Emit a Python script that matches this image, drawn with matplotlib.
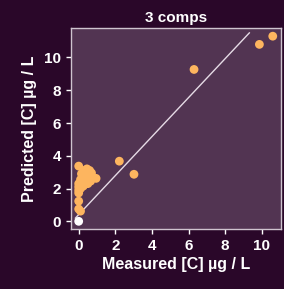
import numpy as np
import matplotlib.pyplot as plt

plt.rcParams['font.family'] = ['Liberation Sans', 'DejaVu Sans']

# colours
FIG_BG = '#2a0729'
AX_BG = '#523452'
DOT = '#fdb55f'
TEXT = 'white'

# data (measured, predicted)
measured = [10.6, 9.87, 6.3, 2.22, 3.02,
            0.0, 0.3, 0.45, 0.6, 0.7, 0.15, 0.3, 0.5, 0.95, 0.1, 0.4, 0.65,
            0.0, 0.2, 0.5, 0.0, 0.25, 0.0, 0.1, 0.0, 0.0, 0.0, 0.1]
predicted = [11.3, 10.8, 9.27, 3.67, 2.87,
             3.37, 3.1, 3.2, 3.1, 2.95, 2.9, 2.75, 2.8, 2.62, 2.55, 2.5, 2.45,
             2.3, 2.35, 2.3, 2.1, 2.15, 1.9, 2.0, 1.73, 1.23, 0.75, 0.62]
origin = [0.0]

# fitted line
fit_slope = 1.19
fit_intercept = 0.41
fit_range = [-0.18, 9.32]

fig = plt.figure(figsize=(2.84, 2.89), dpi=100, facecolor=FIG_BG)
ax = fig.add_axes([71/284, 1 - 229/289, 210/284, 201/289])
ax.set_facecolor(AX_BG)

ax.scatter(measured, predicted, s=40, color=DOT, edgecolors='none', zorder=3)
ax.scatter(origin, origin, s=40, color='white', edgecolors='none', zorder=4)
lx = np.array(fit_range)
ax.plot(lx, fit_slope * lx + fit_intercept, color='#e6dbe6', lw=1, zorder=2)

ax.set_xlim(-0.42, 11.05)
ax.set_ylim(-0.47, 11.8)
ax.set_xticks([0, 2, 4, 6, 8, 10])
ax.set_yticks([0, 2, 4, 6, 8, 10])

for s in ax.spines.values():
    s.set_color('#cfc4cf')
    s.set_linewidth(1)
ax.tick_params(colors=TEXT, labelcolor=TEXT, length=3.5, width=1, labelsize=11)
for lab in ax.get_xticklabels() + ax.get_yticklabels():
    lab.set_fontweight('bold')

ax.set_title('3 comps', color=TEXT, fontsize=11, fontweight='bold', pad=4)
ax.set_xlabel('Measured [C] µg / L', color=TEXT, fontsize=11.5, fontweight='bold', labelpad=3)
ax.set_ylabel('Predicted [C] µg / L', color=TEXT, fontsize=11.5, fontweight='bold', labelpad=5)

fig.savefig('out.png', dpi=100, facecolor=FIG_BG)
